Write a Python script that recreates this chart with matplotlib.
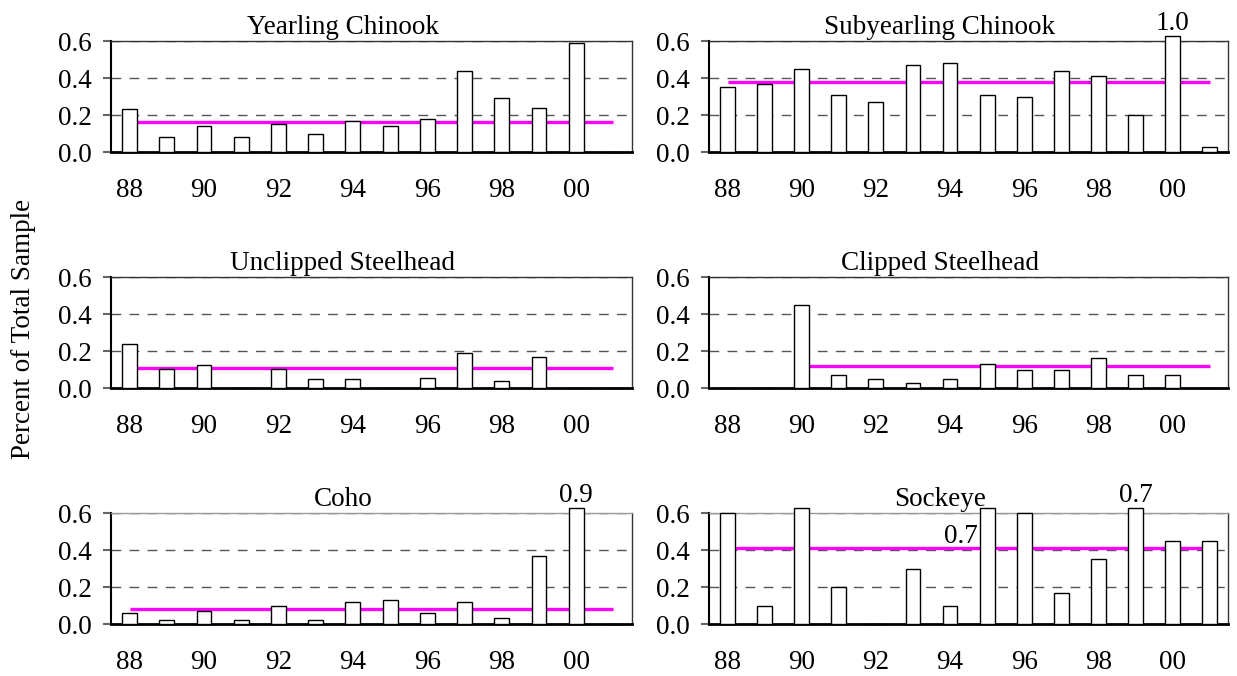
import numpy as np
import matplotlib
matplotlib.use("Agg")
import matplotlib.pyplot as plt

FS = 19.5
plt.rcParams["font.family"] = ["Liberation Serif", "DejaVu Serif"]
plt.rcParams["font.size"] = FS

# ── data ─────────────────────────────────────────────────────────────
YEARS = [88, 89, 90, 91, 92, 93, 94, 95, 96, 97, 98, 99, 100, 101]
TICK_YEARS = [88, 90, 92, 94, 96, 98, 100]
TICK_LABELS = ["88", "90", "92", "94", "96", "98", "00"]

YEARLING_CHINOOK = [0.23, 0.08, 0.14, 0.08, 0.15, 0.10, 0.17, 0.14, 0.18, 0.44, 0.29, 0.24, 0.59, 0.0]
SUBYEARLING_CHINOOK = [0.35, 0.37, 0.45, 0.31, 0.27, 0.47, 0.48, 0.31, 0.30, 0.44, 0.41, 0.20, 1.0, 0.025]
UNCLIPPED_STEELHEAD = [0.24, 0.105, 0.125, 0.0, 0.105, 0.05, 0.05, 0.0, 0.055, 0.19, 0.04, 0.165, 0.0, 0.0]
CLIPPED_STEELHEAD = [0.0, 0.0, 0.45, 0.07, 0.05, 0.025, 0.05, 0.13, 0.095, 0.095, 0.16, 0.07, 0.07, 0.0]
COHO = [0.06, 0.02, 0.07, 0.02, 0.10, 0.02, 0.12, 0.13, 0.06, 0.12, 0.03, 0.37, 0.9, 0.0]
SOCKEYE = [0.6, 0.10, 0.7, 0.20, 0.0, 0.30, 0.10, 0.7, 0.6, 0.17, 0.35, 0.7, 0.45, 0.45]

# mean of each series (magenta line) and the first year it is drawn from
MEANS = [0.16, 0.38, 0.11, 0.12, 0.08, 0.41]
MEAN_START = [88, 88, 88, 90, 88, 88]

TITLES = ["Yearling Chinook", "Subyearling Chinook", "Unclipped Steelhead",
          "Clipped Steelhead", "Coho", "Sockeye"]
SERIES = [YEARLING_CHINOOK, SUBYEARLING_CHINOOK, UNCLIPPED_STEELHEAD,
          CLIPPED_STEELHEAD, COHO, SOCKEYE]

# values above the axis, written as text: (panel, year, text)
OVERFLOW_LABELS = [(1, 100, "1.0"), (4, 100, "0.9"), (5, 99, "0.7")]

CAP = 0.627        # off-scale bars stop a little above the frame
MAGENTA = "#FF00FF"


# ─────────────────────────────────────────────────────────────────────
def style_axes(ax, bottom_row):
    ax.set_xlim(87.5, 101.5)
    ax.set_ylim(0, 0.6)
    ax.set_yticks([0.0, 0.2, 0.4, 0.6])
    ax.set_yticklabels(["0.0", "0.2", "0.4", "0.6"])
    ax.set_xticks(TICK_YEARS)
    ax.set_xticklabels(TICK_LABELS)
    ax.tick_params(axis="x", length=0, pad=19)
    ax.tick_params(axis="y", length=6, width=1.5, color="#666666", pad=8)

    for y in (0.2, 0.4, 0.6):
        ax.axhline(y, color="#555555", lw=1, dashes=(7, 6), zorder=1)

    ax.spines["bottom"].set_linewidth(2)
    ax.spines["left"].set_linewidth(1.5)
    for s in ("top", "right"):
        ax.spines[s].set_linewidth(1)
        ax.spines[s].set_color("#333333")
    if bottom_row:
        ax.spines["top"].set_color("#999999")


def draw_panel(ax, i):
    vals = np.array(SERIES[i])
    heights = np.minimum(vals, CAP)
    ax.bar(YEARS, heights, width=0.4, color="white", edgecolor="black",
           linewidth=1, zorder=3, clip_on=False)
    ax.plot([MEAN_START[i], 101], [MEANS[i], MEANS[i]], color=MAGENTA,
            lw=2.4, zorder=2, solid_capstyle="butt")
    ax.set_title(TITLES[i], x=0.445, pad=5, fontsize=FS)


# ─────────────────────────────────────────────────────────────────────
def main():
    fig = plt.figure(figsize=(12.37, 6.76), dpi=100)

    lefts = [0.0897, 0.5732]
    widths = [0.4212, 0.4196]
    bottoms = [0.7751, 0.4260, 0.0769]
    h = 0.1642

    axes = []
    for r in range(3):
        for c in range(2):
            ax = fig.add_axes([lefts[c], bottoms[r], widths[c], h])
            style_axes(ax, r == 2)
            axes.append(ax)

    for i, ax in enumerate(axes):
        draw_panel(ax, i)

    for panel, year, txt in OVERFLOW_LABELS:
        axes[panel].text(year, CAP, txt, ha="center", va="bottom", fontsize=FS)
    # stray label inside the sockeye panel
    axes[5].text(94.75, 0.405, "0.7", ha="right", va="bottom", fontsize=FS)

    fig.text(0.019, 0.513, "Percent of Total Sample", rotation=90,
             ha="center", va="center", fontsize=FS)

    fig.savefig("out.png", dpi=100)
    plt.close(fig)


if __name__ == "__main__":
    main()
